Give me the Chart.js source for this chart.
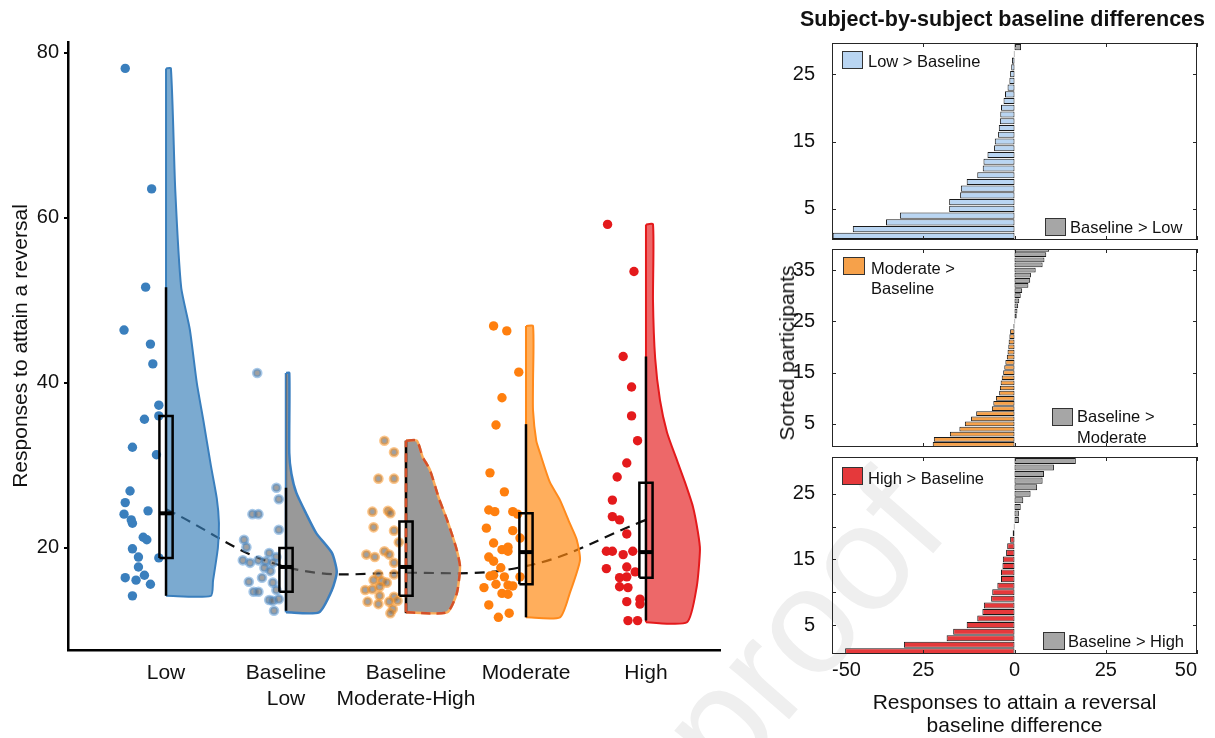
<!DOCTYPE html>
<html>
<head>
<meta charset="utf-8">
<script src="https://cdn.jsdelivr.net/npm/chart.js@4.4.1/dist/chart.umd.min.js"></script>
<style>
  html, body { margin: 0; padding: 0; background: #fff; }
  body { width: 1215px; height: 738px; overflow: hidden; position: relative; font-family: 'Liberation Sans', Arial, sans-serif; color: #111; }
  .box { position: absolute; }
  .t { position: absolute; white-space: nowrap; color: #111; }
  .lg { font-size: 16.5px; line-height: 20px; }
  .sw { position: absolute; border: 1px solid #333; box-sizing: border-box; }
  .wm { position: absolute; font-size: 150px; line-height: 150px; color: #efefef; transform-origin: 0 100%; transform: rotate(-49deg); white-space: nowrap; }
</style>
</head>
<body>
<div class="wm" style="left:745px; top:655px;">proof</div>
<div class="box" style="left:0; top:0; width:730px; height:738px;"><canvas id="main"></canvas></div>
<div class="box" style="left:780px; top:30px; width:435px; height:214px;"><canvas id="p1"></canvas></div>
<div class="box" style="left:780px; top:244px; width:435px; height:206px;"><canvas id="p2"></canvas></div>
<div class="box" style="left:780px; top:450px; width:435px; height:288px;"><canvas id="p3"></canvas></div>

<div class="t" style="left:790px; top:7px; width:425px; text-align:center; font-weight:bold; font-size:21.5px; line-height:24px;">Subject-by-subject baseline differences</div>
<div class="t" style="left:787px; top:353px; font-size:21px; transform: translate(-50%,-50%) rotate(-90deg);">Sorted participants</div>

<div class="sw" style="left:842px; top:51px; width:21px; height:18px; background:#b9d5f2;"></div>
<div class="t lg" style="left:868px; top:51px;">Low &gt; Baseline</div>
<div class="sw" style="left:1045px; top:218px; width:21px; height:18px; background:#a6a6a6;"></div>
<div class="t lg" style="left:1070px; top:217px;">Baseline &gt; Low</div>

<div class="sw" style="left:843px; top:257px; width:22px; height:18px; background:#f6a14a;"></div>
<div class="t lg" style="left:871px; top:258px;">Moderate &gt;<br>Baseline</div>
<div class="sw" style="left:1052px; top:408px; width:21px; height:18px; background:#a6a6a6;"></div>
<div class="t lg" style="left:1077px; top:406px; line-height:21px;">Baseline &gt;<br>Moderate</div>

<div class="sw" style="left:842px; top:467px; width:21px; height:18px; background:#e5393b;"></div>
<div class="t lg" style="left:868px; top:468px;">High &gt; Baseline</div>
<div class="sw" style="left:1043px; top:632px; width:22px; height:18px; background:#a6a6a6;"></div>
<div class="t lg" style="left:1068px; top:631px;">Baseline &gt; High</div>

<script>
// ---------------- data: left panel ----------------
const categoryLabels = [['Low'], ['Baseline', 'Low'], ['Baseline', 'Moderate-High'], ['Moderate'], ['High']];
const yTickValues = [20, 40, 60, 80];

// responses to attain a reversal (one value per participant)
const lowValues = [78.1, 63.5, 51.6, 46.4, 44.7, 42.3, 37.3, 36.0, 35.6, 32.2, 31.3, 26.9, 25.5, 24.5, 24.1, 23.4, 23.0, 21.3, 21.0, 19.9, 18.9, 18.8, 17.7, 16.7, 16.4, 16.1, 15.6, 14.2];
const lowJitter = [-0.34, -0.12, -0.17, -0.35, -0.13, -0.11, -0.06, -0.06, -0.18, -0.28, -0.08, -0.30, -0.34, -0.15, -0.35, -0.29, -0.28, -0.19, -0.16, -0.28, -0.23, -0.06, -0.23, -0.18, -0.34, -0.25, -0.13, -0.28];

const baseLowValues = [41.2, 27.3, 25.9, 24.1, 24.1, 22.2, 21.0, 20.1, 19.4, 18.5, 18.2, 18.5, 18.4, 18.9, 17.6, 17.2, 18.2, 16.4, 15.9, 15.8, 14.7, 14.7, 14.9, 13.7, 13.6, 13.8, 12.4];
const baseLowJitter = [-0.24, -0.08, -0.06, -0.28, -0.23, -0.06, -0.35, -0.33, -0.14, -0.36, -0.30, -0.23, -0.17, -0.08, -0.18, -0.13, -0.11, -0.20, -0.31, -0.11, -0.27, -0.23, -0.08, -0.14, -0.11, -0.06, -0.10];

const baseModHighValues = [33.0, 31.6, 28.4, 28.4, 24.4, 24.5, 24.2, 22.5, 22.1, 20.7, 19.2, 18.9, 19.6, 19.2, 18.2, 16.8, 16.8, 16.1, 16.0, 15.8, 14.9, 15.0, 15.3, 14.2, 14.1, 13.6, 13.5, 13.2, 13.5, 12.6, 12.1];
const baseModHighJitter = [-0.18, -0.10, -0.23, -0.10, -0.28, -0.15, -0.13, -0.27, -0.10, -0.06, -0.33, -0.26, -0.18, -0.14, -0.10, -0.10, -0.23, -0.27, -0.20, -0.16, -0.34, -0.28, -0.22, -0.22, -0.10, -0.07, -0.32, -0.23, -0.14, -0.11, -0.13];

const moderateValues = [46.9, 46.3, 41.3, 38.2, 34.9, 29.1, 26.8, 24.6, 24.4, 24.4, 24.1, 22.4, 22.1, 21.2, 20.6, 19.8, 20.1, 19.6, 18.9, 18.4, 17.6, 16.6, 16.7, 16.5, 16.5, 15.6, 15.5, 15.4, 15.2, 14.5, 14.4, 13.1, 12.1, 11.6];
const moderateJitter = [-0.27, -0.16, -0.06, -0.20, -0.25, -0.30, -0.18, -0.31, -0.26, -0.11, -0.07, -0.33, -0.11, -0.05, -0.27, -0.20, -0.15, -0.15, -0.31, -0.27, -0.21, -0.30, -0.27, -0.18, -0.05, -0.25, -0.15, -0.11, -0.35, -0.20, -0.15, -0.31, -0.14, -0.23];

const highValues = [59.2, 53.5, 43.2, 39.5, 36.0, 33.0, 30.3, 28.6, 25.8, 23.8, 23.4, 21.7, 19.6, 19.6, 19.6, 19.2, 17.5, 17.7, 17.1, 16.4, 16.5, 15.3, 15.2, 13.8, 13.5, 13.2, 11.2, 11.2];
const highJitter = [-0.32, -0.10, -0.19, -0.12, -0.12, -0.07, -0.16, -0.24, -0.28, -0.28, -0.22, -0.16, -0.33, -0.28, -0.11, -0.19, -0.33, -0.16, -0.09, -0.22, -0.16, -0.22, -0.15, -0.05, -0.16, -0.05, -0.15, -0.07];

// box statistics: [lower whisker, Q1, median, Q3, upper whisker]
const lowBox = [14.2, 18.8, 24.2, 36.0, 51.6];
const baseLowBox = [12.4, 14.7, 17.7, 20.0, 27.3];
const baseModHighBox = [12.1, 14.2, 17.7, 23.2, 33.0];
const moderateBox = [11.6, 15.6, 19.5, 24.2, 35.0];
const highBox = [11.2, 16.4, 19.5, 27.9, 43.2];

// half-violin density profiles (response level, relative density)
const lowViolinLevels = [78.1, 63.5, 51.6, 46.5, 40, 35.5, 30, 26, 23, 20, 16, 14.2];
const lowViolinDensity = [0.09, 0.17, 0.28, 0.44, 0.57, 0.69, 0.83, 0.94, 0.98, 0.96, 0.87, 0.83];
const baseLowViolinLevels = [41.2, 31.5, 29, 26.7, 24.2, 21.8, 19.4, 17.1, 14.9, 12.2];
const baseLowViolinDensity = [0.06, 0.06, 0.10, 0.19, 0.37, 0.56, 0.85, 0.94, 0.85, 0.61];
const baseModHighViolinLevels = [33.0, 31, 29.5, 26, 23.4, 20, 17.7, 14.5, 12.2];
const baseModHighViolinDensity = [0.20, 0.31, 0.44, 0.61, 0.76, 0.93, 1.0, 0.94, 0.76];
const moderateViolinLevels = [46.9, 40, 36.7, 33, 31.5, 28, 25.8, 23, 21, 18.5, 14.5, 11.6];
const moderateViolinDensity = [0.13, 0.13, 0.13, 0.19, 0.26, 0.44, 0.63, 0.81, 0.94, 1.0, 0.81, 0.63];
const highViolinLevels = [59.2, 50, 43, 37.9, 34, 30.7, 28, 25, 22, 19.8, 15.3, 11.0];
const highViolinDensity = [0.13, 0.13, 0.17, 0.26, 0.39, 0.57, 0.72, 0.87, 0.96, 1.0, 0.94, 0.76];

// quadratic trend across conditions (dashed line)
const trendValues = [24.7, 17.7, 17.0, 17.8, 23.4];

// ---------------- data: right panels ----------------
const lowDiff = [-49.8, -44.3, -35.2, -31.4, -17.9, -17.9, -14.9, -14.7, -13.1, -10.2, -8.7, -8.5, -7.4, -5.6, -5.4, -4.5, -4.3, -4.0, -3.9, -3.7, -3.0, -2.6, -1.9, -1.4, -1.2, -0.9, -0.7, -0.2, 1.8];
const moderateDiff = [-22.4, -22.1, -17.7, -15.1, -13.6, -11.9, -10.5, -6.2, -5.8, -5.1, -4.2, -4.0, -3.8, -3.5, -3.1, -2.8, -2.5, -2.1, -1.9, -1.7, -1.6, -1.4, -1.2, -0.3, 0.2, 0.6, 0.8, 1.0, 1.3, 1.7, 2.1, 3.8, 4.3, 4.5, 5.8, 7.7, 8.2, 8.7, 9.5];
const highDiff = [-46.4, -30.3, -18.6, -16.8, -13.1, -10.2, -8.8, -8.4, -6.4, -6.1, -4.7, -3.7, -3.7, -3.3, -3.2, -2.3, -2.0, -1.2, -0.5, -0.2, 1.2, 1.2, 1.7, 2.4, 4.4, 6.2, 7.7, 8.1, 10.8, 16.8];
const diffTickValues = [-50, -25, 0, 25, 50];
const diffTickLabels = ['-50', '25', '0', '25', '50'];
const lowPanelTicks = [5, 15, 25];
const moderatePanelTicks = [5, 15, 25, 35];
const highPanelTicks = [5, 10, 15, 20, 25];
const highPanelLabeled = [5, 15, 25];

// ---------------- styling ----------------
const FONT = "'Liberation Sans', Arial, Helvetica, sans-serif";
Chart.defaults.font.family = FONT;
Chart.defaults.color = '#111';
Chart.defaults.animation = false;

const VIOLIN_HALF = 0.45;   // max violin half-width, category units
const BOX_HALF = 0.055;     // box half-width, category units

const groups = [
  { values: lowValues, jitter: lowJitter, box: lowBox, levels: lowViolinLevels, dens: lowViolinDensity,
    outline: '#3a7fbd', fill: 'rgba(55,126,184,0.66)', ptFill: '#3a7fbd', ptBorder: 'rgba(58,127,189,0)', ptBW: 0, r: 4.7 },
  { values: baseLowValues, jitter: baseLowJitter, box: baseLowBox, levels: baseLowViolinLevels, dens: baseLowViolinDensity,
    outline: '#3b7fc0', fill: 'rgba(105,105,105,0.68)', ptFill: 'rgba(100,100,100,0.62)', ptBorder: 'rgba(80,145,210,0.5)', ptBW: 3, r: 3.8, outlineW: 2.5 },
  { values: baseModHighValues, jitter: baseModHighJitter, box: baseModHighBox, levels: baseModHighViolinLevels, dens: baseModHighViolinDensity,
    outline: '#fbab58', fill: 'rgba(105,105,105,0.68)', ptFill: 'rgba(100,100,100,0.62)', ptBorder: 'rgba(250,150,40,0.55)', ptBW: 3, r: 3.8, outlineW: 2.5, dashed: '#d4502a' },
  { values: moderateValues, jitter: moderateJitter, box: moderateBox, levels: moderateViolinLevels, dens: moderateViolinDensity,
    outline: '#ff8a1c', fill: 'rgba(255,135,15,0.68)', ptFill: '#ff7f0e', ptBorder: 'rgba(0,0,0,0)', ptBW: 0, r: 4.7 },
  { values: highValues, jitter: highJitter, box: highBox, levels: highViolinLevels, dens: highViolinDensity,
    outline: '#e41a1c', fill: 'rgba(228,26,28,0.66)', ptFill: '#e41a1c', ptBorder: 'rgba(0,0,0,0)', ptBW: 0, r: 4.7 }
];

const lineBase = { showLine: true, pointRadius: 0, pointHoverRadius: 0, fill: false, tension: 0 };
const datasets = [];

// trend line (bottom)
datasets.push(Object.assign({}, lineBase, {
  data: trendValues.map((v, i) => ({ x: i + 1, y: v })),
  borderColor: '#111', borderWidth: 2.2, borderDash: [10, 7], tension: 0.4, order: 60
}));

groups.forEach((g, gi) => {
  const c = gi + 1;
  const n = g.levels.length;
  const violinPts = [{ x: c, y: g.levels[0] }]
    .concat(g.levels.map((l, i) => ({ x: c + g.dens[i] * VIOLIN_HALF, y: l })))
    .concat([{ x: c, y: g.levels[n - 1] }]);
  datasets.push(Object.assign({}, lineBase, {
    data: violinPts, fill: 'shape', backgroundColor: g.fill, borderColor: g.outline,
    borderWidth: g.outlineW || 2, tension: 0.2, order: 50
  }));
  datasets.push(Object.assign({}, lineBase, {
    data: [{ x: c, y: g.levels[n - 1] }, { x: c, y: g.levels[0] }],
    borderColor: g.outline, borderWidth: g.outlineW || 2, order: 50
  }));
  datasets.push({
    data: g.values.map((v, i) => ({ x: c + g.jitter[i], y: v })),
    showLine: false, pointRadius: g.r, pointHoverRadius: g.r,
    pointBackgroundColor: g.ptFill, pointBorderColor: g.ptBorder, pointBorderWidth: g.ptBW, order: 45
  });
  datasets.push(Object.assign({}, lineBase, {
    data: [{ x: c, y: g.box[0] }, { x: c, y: g.box[4] }],
    borderColor: '#000', borderWidth: 2.5, order: 40
  }));
  if (g.dashed) {
    datasets.push(Object.assign({}, lineBase, {
      data: violinPts, borderColor: g.dashed, borderWidth: 2.5, borderDash: [9, 6], tension: 0.2, order: 35
    }));
    datasets.push(Object.assign({}, lineBase, {
      data: [{ x: c, y: g.levels[n - 1] }, { x: c, y: g.levels[0] }],
      borderColor: g.dashed, borderWidth: 2.5, borderDash: [9, 6], order: 35
    }));
  }
  datasets.push(Object.assign({}, lineBase, {
    data: [{ x: c - BOX_HALF, y: g.box[1] }, { x: c + BOX_HALF, y: g.box[1] }, { x: c + BOX_HALF, y: g.box[3] },
           { x: c - BOX_HALF, y: g.box[3] }, { x: c - BOX_HALF, y: g.box[1] }],
    borderColor: '#000', borderWidth: 2.5, borderJoinStyle: 'miter', order: 30
  }));
  datasets.push(Object.assign({}, lineBase, {
    data: [{ x: c - BOX_HALF, y: g.box[2] }, { x: c + BOX_HALF, y: g.box[2] }],
    borderColor: '#000', borderWidth: 4, order: 30
  }));
});

new Chart(document.getElementById('main'), {
  type: 'scatter',
  data: { datasets },
  options: {
    responsive: true, maintainAspectRatio: false, devicePixelRatio: 1,
    layout: { padding: { top: 42, right: 10, left: 0, bottom: 0 } },
    plugins: { legend: { display: false }, tooltip: { enabled: false } },
    events: [],
    scales: {
      x: {
        type: 'linear', min: 0.183, max: 5.617,
        afterBuildTicks: (s) => { s.ticks = categoryLabels.map((_, i) => ({ value: i + 1 })); },
        afterFit: (s) => { s.height = 88; },
        ticks: { callback: (v) => categoryLabels[Math.round(v) - 1], font: { size: 21 }, color: '#111', padding: 3, maxRotation: 0, autoSkip: false },
        grid: { display: false },
        border: { display: true, color: '#000', width: 2.5 }
      },
      y: {
        type: 'linear', min: 7.64, max: 81.3,
        afterBuildTicks: (s) => { s.ticks = yTickValues.map(v => ({ value: v })); },
        afterFit: (s) => { s.width = 68; },
        ticks: { font: { size: 20 }, color: '#111', padding: 5 },
        grid: { drawOnChartArea: false, drawTicks: true, tickLength: 4, color: '#000', lineWidth: 2 },
        border: { display: true, color: '#000', width: 2.5 },
        title: { display: true, text: 'Responses to attain a reversal', font: { size: 21 }, color: '#111', padding: { top: 9, bottom: 0 } }
      }
    }
  }
});

// ---------------- right panels ----------------
const framePlugin = {
  id: 'frame',
  afterDraw(chart, args, opts) {
    const { ctx, chartArea: a, scales } = chart;
    ctx.save();
    ctx.strokeStyle = '#262626';
    ctx.lineWidth = 1;
    ctx.strokeRect(Math.round(a.left) + 0.5, Math.round(a.top) + 0.5, Math.round(a.right - a.left) - 1, Math.round(a.bottom - a.top) - 1);
    ctx.beginPath();
    (opts.yTicks || []).forEach(v => {
      const py = Math.round(scales.y.getPixelForValue(v)) + 0.5;
      ctx.moveTo(a.left, py); ctx.lineTo(a.left + 4, py);
      ctx.moveTo(a.right, py); ctx.lineTo(a.right - 4, py);
    });
    (opts.xTicks || []).forEach(v => {
      const px = Math.round(scales.x.getPixelForValue(v)) + 0.5;
      ctx.moveTo(px, a.bottom); ctx.lineTo(px, a.bottom - 4);
      ctx.moveTo(px, a.top); ctx.lineTo(px, a.top + 4);
    });
    ctx.stroke();
    ctx.restore();
  }
};

function makePanel(id, diffs, color, yMin, yMax, yTicks, labeledTicks, pad, showX) {
  const grey = '#a6a6a6';
  new Chart(document.getElementById(id), {
    type: 'bar',
    data: {
      datasets: [{
        data: diffs.map((v, i) => ({ x: v, y: i + 1 })),
        backgroundColor: (ctx) => (ctx.raw && ctx.raw.x > 0 ? grey : color),
        borderColor: '#1a1a1a', borderWidth: 1, borderSkipped: false,
        barPercentage: 0.92, categoryPercentage: 1
      }]
    },
    plugins: [framePlugin],
    options: {
      indexAxis: 'y',
      responsive: true, maintainAspectRatio: false, devicePixelRatio: 1,
      layout: { padding: pad },
      events: [],
      plugins: { legend: { display: false }, tooltip: { enabled: false }, frame: { yTicks: yTicks, xTicks: diffTickValues } },
      scales: {
        x: {
          type: 'linear', min: -50, max: 50, display: showX,
          afterBuildTicks: (s) => { s.ticks = diffTickValues.map(v => ({ value: v })); },
          afterFit: (s) => { if (showX) s.height = 84; s.paddingLeft = 0; s.paddingRight = 0; },
          ticks: { callback: (v) => diffTickLabels[diffTickValues.indexOf(v)], font: { size: 20 }, color: '#111', padding: -4, align: 'inner', maxRotation: 0 },
          grid: { display: false },
          border: { display: false },
          title: { display: showX, text: ['Responses to attain a reversal', 'baseline difference'], font: { size: 21, lineHeight: 1.1 }, color: '#111', padding: { top: 6, bottom: 0 } }
        },
        y: {
          type: 'linear', min: yMin, max: yMax, offset: false,
          afterBuildTicks: (s) => { s.ticks = yTicks.map(v => ({ value: v })); },
          afterFit: (s) => { s.width = 52; s.paddingTop = 0; s.paddingBottom = 0; },
          ticks: { callback: (v) => (labeledTicks.indexOf(v) >= 0 ? String(v) : ''), font: { size: 20 }, color: '#111', padding: 9 },
          grid: { display: false, offset: false },
          border: { display: false }
        }
      }
    }
  });
}

makePanel('p1', lowDiff, '#b9d5f2', 0.4, 29.6, lowPanelTicks, lowPanelTicks, { top: 13, right: 18, bottom: 4, left: 0 }, false);
makePanel('p2', moderateDiff, '#f6a14a', 0.5, 39.1, moderatePanelTicks, moderatePanelTicks, { top: 5, right: 18, bottom: 3, left: 0 }, false);
makePanel('p3', highDiff, '#e5393b', 0.6, 30.6, highPanelTicks, highPanelLabeled, { top: 7, right: 18, bottom: 0, left: 0 }, true);
</script>
</body>
</html>
